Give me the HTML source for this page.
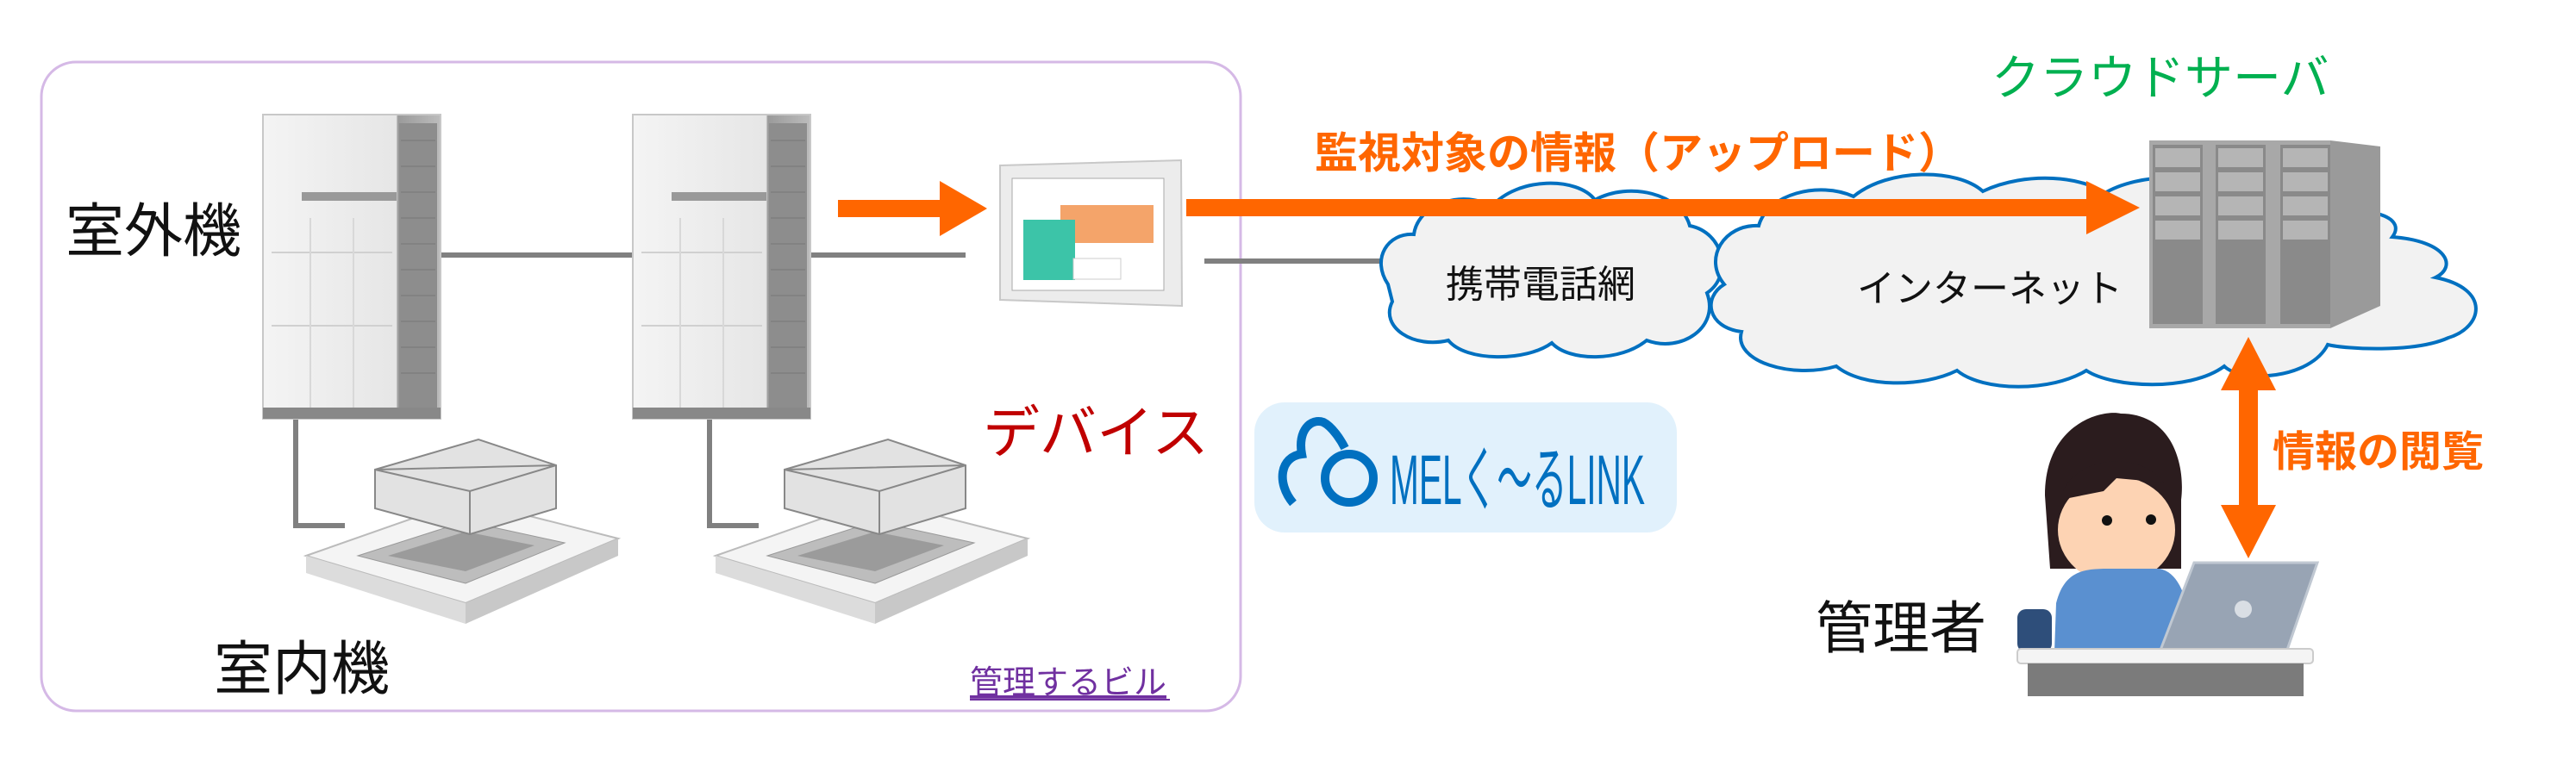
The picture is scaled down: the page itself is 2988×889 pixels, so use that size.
<!DOCTYPE html>
<html><head><meta charset="utf-8"><style>
html,body{margin:0;padding:0;background:#fff;}
svg{display:block;}
text{font-family:"Liberation Sans","Noto Sans CJK JP",sans-serif;}
</style></head><body>
<svg width="2988" height="889" viewBox="0 0 2988 889" xmlns="http://www.w3.org/2000/svg">
<defs>
<linearGradient id="ou" x1="0" x2="1"><stop offset="0" stop-color="#f4f4f4"/><stop offset="0.75" stop-color="#e6e6e6"/><stop offset="0.76" stop-color="#9a9a9a"/><stop offset="1" stop-color="#bcbcbc"/></linearGradient>
<g id="outdoor">
<rect x="0" y="0" width="206" height="353" fill="url(#ou)" stroke="#c8c8c8" stroke-width="2"/>
<rect x="158" y="10" width="44" height="335" fill="#8d8d8d"/>
<g stroke="#777" stroke-width="1">
<line x1="160" y1="30" x2="200" y2="30"/><line x1="160" y1="60" x2="200" y2="60"/><line x1="160" y1="90" x2="200" y2="90"/><line x1="160" y1="120" x2="200" y2="120"/><line x1="160" y1="150" x2="200" y2="150"/><line x1="160" y1="180" x2="200" y2="180"/><line x1="160" y1="210" x2="200" y2="210"/><line x1="160" y1="240" x2="200" y2="240"/><line x1="160" y1="270" x2="200" y2="270"/><line x1="160" y1="300" x2="200" y2="300"/>
</g>
<rect x="45" y="90" width="110" height="10" fill="#999"/>
<line x1="10" y1="160" x2="150" y2="160" stroke="#d0d0d0" stroke-width="2"/>
<line x1="10" y1="245" x2="150" y2="245" stroke="#d0d0d0" stroke-width="2"/>
<line x1="55" y1="120" x2="55" y2="340" stroke="#d8d8d8" stroke-width="2"/>
<line x1="105" y1="120" x2="105" y2="340" stroke="#d8d8d8" stroke-width="2"/>
<rect x="0" y="340" width="206" height="13" fill="#888"/>
</g>
<g id="indoor">
<polygon points="0,140 185,75 362,120 185,195" fill="#f4f4f4" stroke="#bbb" stroke-width="2"/>
<polygon points="0,140 185,195 185,219 0,160" fill="#dcdcdc"/>
<polygon points="185,195 362,120 362,140 185,219" fill="#c8c8c8"/>
<polygon points="60,140 185,100 300,125 185,172" fill="#bdbdbd" stroke="#999"/>
<polygon points="95,140 185,112 265,128 185,158" fill="#9b9b9b"/>
<polygon points="80,40 200,5 290,35 290,85 190,115 80,85" fill="#e2e2e2" stroke="#888" stroke-width="2"/>
<polygon points="80,40 190,65 290,35" fill="none" stroke="#888" stroke-width="2"/>
<line x1="190" y1="65" x2="190" y2="115" stroke="#888" stroke-width="2"/>
</g>
</defs>

<rect x="48" y="72" width="1391" height="753" rx="40" fill="#fff" stroke="#d5b9e6" stroke-width="3"/>

<g stroke="#808080" stroke-width="6" fill="none">
<line x1="511" y1="296" x2="734" y2="296"/>
<line x1="938" y1="296" x2="1120" y2="296"/>
<polyline points="343,486 343,610 400,610"/>
<polyline points="823,486 823,610 880,610"/>
<line x1="1397" y1="303" x2="1605" y2="303"/>
</g>

<use href="#outdoor" x="305" y="133"/>
<use href="#outdoor" x="734" y="133"/>
<use href="#indoor" x="355" y="505"/>
<use href="#indoor" x="830" y="505"/>

<text x="76" y="292" font-size="68" fill="#111">室外機</text>
<text x="248" y="800" font-size="68" fill="#111">室内機</text>
<text x="1140" y="525" font-size="66" fill="#c00000">デバイス</text>
<text x="1125" y="805" font-size="38" fill="#7030a0" text-decoration="underline">管理するビル</text>
<line x1="1125" y1="812" x2="1357" y2="812" stroke="#7030a0" stroke-width="2"/>

<polygon points="1160,192 1370,186 1371,355 1160,348" fill="#ececec" stroke="#c8c8c8" stroke-width="2"/>
<rect x="1174" y="207" width="176" height="130" fill="#fff" stroke="#aaa"/>
<rect x="1230" y="238" width="108" height="44" fill="#f4a46a"/>
<rect x="1187" y="255" width="60" height="70" fill="#3cc4a8"/>
<rect x="1245" y="300" width="55" height="24" fill="#fff" stroke="#ccc"/>

<polygon points="972,232 1090,232 1090,210 1145,242 1090,274 1090,252 972,252" fill="#ff6600"/>

<path d="M1610,330 C1590,300 1610,270 1640,272 C1645,235 1700,220 1730,240 C1760,205 1830,205 1850,232 C1890,210 1950,225 1960,262 C2000,270 2010,320 1980,340 C1995,380 1950,410 1910,395 C1880,420 1820,420 1800,398 C1770,420 1700,420 1680,395 C1640,405 1600,380 1615,350 Z" fill="#f2f2f2" stroke="#0070c0" stroke-width="4"/>
<text x="1677" y="345" font-size="44" fill="#111">携帯電話網</text>
<path d="M2000,330 C1975,300 2000,260 2040,262 C2050,225 2110,210 2150,228 C2190,195 2270,195 2300,222 C2350,198 2420,205 2440,225 C2480,200 2560,200 2590,220 C2640,215 2680,225 2700,245 C2760,240 2790,255 2775,275 C2840,280 2850,310 2825,322 C2890,335 2880,380 2840,392 C2800,410 2720,405 2700,400 C2680,440 2600,445 2580,425 C2540,455 2450,450 2420,430 C2380,455 2300,455 2270,430 C2230,450 2160,450 2130,425 C2080,440 2010,420 2020,385 C1980,380 1975,345 2000,330 Z" fill="#f2f2f2" stroke="#0070c0" stroke-width="4"/>
<text x="2154" y="350" font-size="44" fill="#111">インターネット</text>

<polygon points="1376,231 2420,231 2420,210 2482,241 2420,272 2420,251 1376,251" fill="#ff6600"/>
<text x="1525" y="195" font-size="50" font-weight="bold" fill="#ff6600">監視対象の情報（アップロード）</text>

<g>
<polygon points="2703,163 2761,170 2761,355 2703,381" fill="#9a9a9a"/>
<rect x="2493" y="163" width="210" height="218" fill="#a8a8a8"/>
<rect x="2497" y="168" width="58" height="208" fill="#8a8a8a"/>
<rect x="2570" y="168" width="58" height="208" fill="#8a8a8a"/>
<rect x="2645" y="168" width="58" height="208" fill="#8a8a8a"/>
<g fill="#b5b5b5">
<rect x="2500" y="172" width="52" height="22"/><rect x="2500" y="200" width="52" height="22"/><rect x="2500" y="228" width="52" height="22"/><rect x="2500" y="256" width="52" height="22"/>
<rect x="2573" y="172" width="52" height="22"/><rect x="2573" y="200" width="52" height="22"/><rect x="2573" y="228" width="52" height="22"/><rect x="2573" y="256" width="52" height="22"/>
<rect x="2648" y="172" width="52" height="22"/><rect x="2648" y="200" width="52" height="22"/><rect x="2648" y="228" width="52" height="22"/><rect x="2648" y="256" width="52" height="22"/>
</g>
</g>
<text x="2310" y="110" font-size="56" fill="#00b050">クラウドサーバ</text>

<polygon points="2608,391 2640,453 2619,453 2619,586 2640,586 2608,648 2576,586 2597,586 2597,453 2576,453" fill="#ff6600"/>
<text x="2636" y="541" font-size="49" font-weight="bold" fill="#ff6600">情報の閲覧</text>

<rect x="2340" y="707" width="40" height="50" rx="10" fill="#2e4e7a"/>
<path d="M2372,575 C2372,490 2440,475 2460,480 C2520,480 2535,540 2530,580 L2530,660 L2378,660 Z" fill="#2b1c1e"/>
<ellipse cx="2455" cy="615" rx="68" ry="62" fill="#fdd3b3"/>
<path d="M2390,580 C2400,530 2480,520 2510,560 L2455,555 L2440,570 Z" fill="#2b1c1e"/>
<circle cx="2444" cy="604" r="6" fill="#111"/><circle cx="2495" cy="603" r="6" fill="#111"/>
<path d="M2385,700 C2395,660 2420,660 2450,660 L2505,660 C2530,665 2540,700 2545,757 L2383,757 Z" fill="#5a90d0"/>
<polygon points="2545,653 2688,653 2652,757 2505,757" fill="#98a4b4" stroke="#c0c8d2" stroke-width="3"/>
<circle cx="2602" cy="707" r="10" fill="#d9dee4"/>
<rect x="2340" y="753" width="343" height="17" rx="4" fill="#f4f4f4" stroke="#ccc" stroke-width="2"/>
<rect x="2352" y="770" width="320" height="38" fill="#7b7b7b"/>
<text x="2106" y="752" font-size="66" fill="#111">管理者</text>

<rect x="1455" y="467" width="490" height="151" rx="35" fill="#e1f1fc"/>
<g fill="none" stroke="#0070c0" stroke-width="10">
<path d="M1500,584 C1480,560 1485,530 1510,527 C1505,500 1520,485 1535,490 C1545,495 1555,510 1560,520"/>
<circle cx="1565" cy="555" r="28"/>
</g>
<text x="1612" y="585" font-size="82" fill="#0070c0" textLength="296" lengthAdjust="spacingAndGlyphs">MELく〜るLINK</text>
</svg>
</body></html>
